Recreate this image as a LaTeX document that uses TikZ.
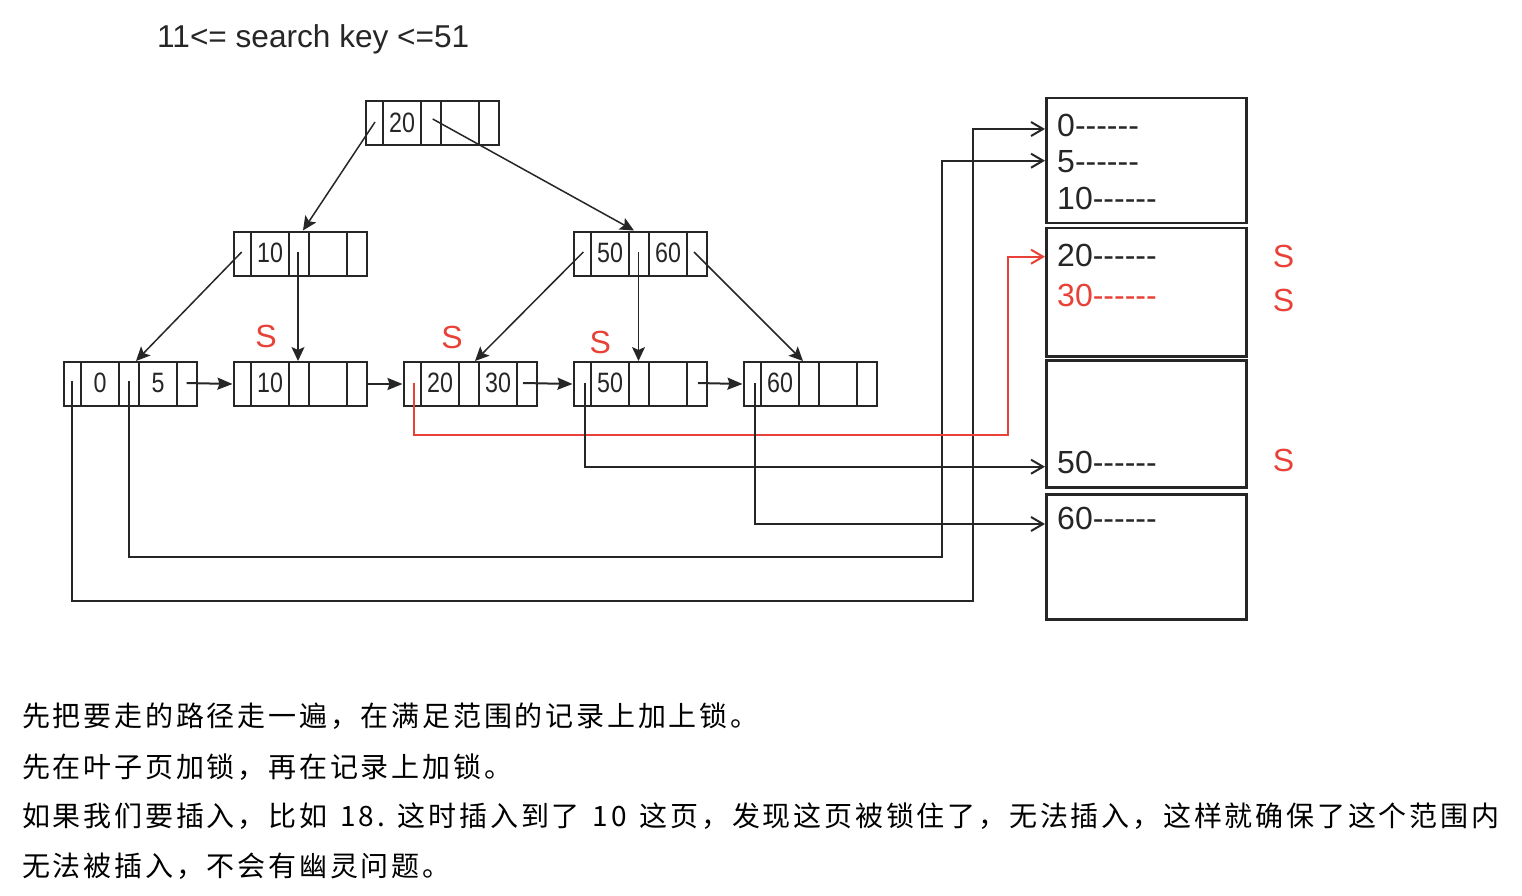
\documentclass[tikz,border=0pt]{standalone}
\usepackage{fontspec}
\setmainfont{Liberation Sans}[Ligatures=NoCommon]
\newfontfamily\keyfont[FakeStretch=0.83]{Liberation Sans}
\newfontfamily\cjk[LetterSpace=10]{Noto Sans CJK SC}
\usetikzlibrary{arrows.meta}
\definecolor{ink}{RGB}{38,38,38}
\definecolor{lockred}{RGB}{232,66,56}
\tikzset{
 btbox/.style={draw=ink, line width=2pt, minimum width=133pt, minimum height=44pt, inner sep=0pt, anchor=north west},
 divider/.style={draw=ink, line width=2pt},
 keytxt/.style={font=\keyfont\fontsize{28}{30}\selectfont, inner sep=0pt, text=ink},
 treearrow/.style={draw=ink, line width=1.5pt, -{Stealth[length=14pt,width=13pt,inset=3pt]}},
 nextarrow/.style={draw=ink, line width=2pt, -{Stealth[length=15pt,width=12pt,inset=2pt]}},
 datalink/.style={draw=ink, line width=2pt, -{Straight Barb[length=12pt,width=14pt]}},
 redlink/.style={datalink, draw=lockred},
 pagebox/.style={draw=ink, line width=2.5pt, minimum width=200pt, inner sep=0pt, anchor=north west},
 rec/.style={font=\fontsize{32}{36}\selectfont, inner sep=0pt, anchor=base west, text=ink},
 lock/.style={font=\fontsize{32}{36}\selectfont, inner sep=0pt, text=lockred},
 note/.style={font=\cjk\fontsize{28}{32}\selectfont, inner sep=0pt, anchor=base west, text=black},
}
\newcommand\dashrun{-{}-{}-{}-{}-{}-}
\newcommand\wsp{\hspace{13pt}}
\newcommand\btnode[5]{%
 \node[btbox] (#1) at (#2,#3) {};
 \foreach \dx in {18.5,56.5,76.5,114.5}{\draw[divider] (#2+\dx,#3) -- (#2+\dx,#3+44);}
 \node[keytxt] (#1-a) at (#2+37.5,#3+22) {#4};
 \node[keytxt] (#1-b) at (#2+95.5,#3+22) {#5};
}
\begin{document}
\begin{tikzpicture}[x=1pt,y=-1pt]
\fill[white] (0,0) rectangle (1522,896);
\useasboundingbox (0,0) rectangle (1522,896);

\node[font=\fontsize{31.6}{36}\selectfont, anchor=base west, inner sep=0pt, text=ink] (title) at (157,47.3) {11<= search key <=51};

% B+ tree nodes
\btnode{root}{364.5}{100.5}{20}{}
\btnode{inA}{232.5}{230.5}{10}{}
\btnode{inB}{572.5}{230.5}{50}{60}
\btnode{lf1}{62.5}{361}{0}{5}
\btnode{lf2}{232.5}{361}{10}{}
\btnode{lf3}{402.5}{361}{20}{30}
\btnode{lf4}{572.5}{361}{50}{}
\btnode{lf5}{742.5}{361}{60}{}

% pointer coordinates
\coordinate (root-p0) at (375,122);
\coordinate (root-p1) at (432.7,119);
\coordinate (inA-in) at (303,230.5);
\coordinate (inB-in) at (634,230.5);
\coordinate (inA-p0) at (241.7,252);
\coordinate (inA-p1) at (298,252);
\coordinate (inB-p0) at (583.3,252);
\coordinate (inB-p1) at (638.5,252);
\coordinate (inB-p2) at (694,252);
\coordinate (lf1-in) at (136,361);
\coordinate (lf2-in) at (298,361);
\coordinate (lf3-in) at (475,361);
\coordinate (lf4-in) at (638.5,361);
\coordinate (lf5-in) at (803,361);

\draw[treearrow] (root-p0) -- (inA-in);
\draw[treearrow] (root-p1) -- (inB-in);
\draw[treearrow] (inA-p0) -- (lf1-in);
\draw[treearrow] (inA-p1) -- (lf2-in);
\draw[treearrow] (inB-p0) -- (lf3-in);
\draw[treearrow] (inB-p1) -- (lf4-in);
\draw[treearrow] (inB-p2) -- (lf5-in);

% leaf chain
\coordinate (lf1-nx) at (186.7,383);
\coordinate (lf3-nx) at (523,383);
\coordinate (lf4-nx) at (698,383);
\draw[nextarrow] (lf1-nx) -- (lf2.west);
\draw[nextarrow] (lf2.east) -- (lf3.west);
\draw[nextarrow] (lf3-nx) -- (lf4.west);
\draw[nextarrow] (lf4-nx) -- (lf5.west);

% data pages
\node[pagebox, minimum height=125pt] (pg1) at (1045,96.7) {};
\node[pagebox, minimum height=128.3pt] (pg2) at (1045,226.7) {};
\node[pagebox, minimum height=126.7pt] (pg3) at (1045,359.3) {};
\node[pagebox, minimum height=125pt] (pg4) at (1045,493.3) {};

\node[rec] (r0) at (1057,136.5) {0\dashrun};
\node[rec] (r5) at (1057,173) {5\dashrun};
\node[rec] (r10) at (1057,209.5) {10\dashrun};
\node[rec] (r20) at (1057,266) {20\dashrun};
\node[rec, text=lockred] (r30) at (1057,306) {30\dashrun};
\node[rec] (r50) at (1057,473.5) {50\dashrun};
\node[rec] (r60) at (1057,529.5) {60\dashrun};

% data links
\coordinate (lf1-d0) at (72.3,381);
\coordinate (lf1-d1) at (129,381);
\coordinate (lf3-d0) at (414.3,382.7);
\coordinate (lf4-d0) at (584.5,383);
\coordinate (lf5-d0) at (755,383);
\coordinate (pg1-a) at (1045,129);
\coordinate (pg1-b) at (1045,160.7);
\coordinate (pg2-a) at (1045,256.7);
\coordinate (pg3-a) at (1045,466.7);
\coordinate (pg4-a) at (1045,524);

\draw[datalink] (lf1-d0) |- (972.7,600.7) |- (pg1-a);
\draw[datalink] (lf1-d1) |- (942.3,556.7) |- (pg1-b);
\draw[redlink] (lf3-d0) |- (1008.3,435) |- (pg2-a);
\draw[datalink] (lf4-d0) |- (pg3-a);
\draw[datalink] (lf5-d0) |- (pg4-a);

% lock marks
\node[lock] (s1) at (266,336) {S};
\node[lock] (s2) at (452,337.7) {S};
\node[lock] (s3) at (600.3,342.7) {S};
\node[lock] (s4) at (1283.5,256.7) {S};
\node[lock] (s5) at (1283.5,300) {S};
\node[lock] (s6) at (1283.5,460) {S};

% notes
\node[note] (n1) at (22,726) {先把要走的路径走一遍，在满足范围的记录上加上锁。};
\node[note] (n2) at (22,777) {先在叶子页加锁，再在记录上加锁。};
\node[note] (n3) at (22,826) {如果我们要插入，比如\wsp 18.\wsp 这时插入到了\wsp 10\wsp 这页，发现这页被锁住了，无法插入，这样就确保了这个范围内};
\node[note] (n4) at (22,876) {无法被插入，不会有幽灵问题。};
\end{tikzpicture}
\end{document}
